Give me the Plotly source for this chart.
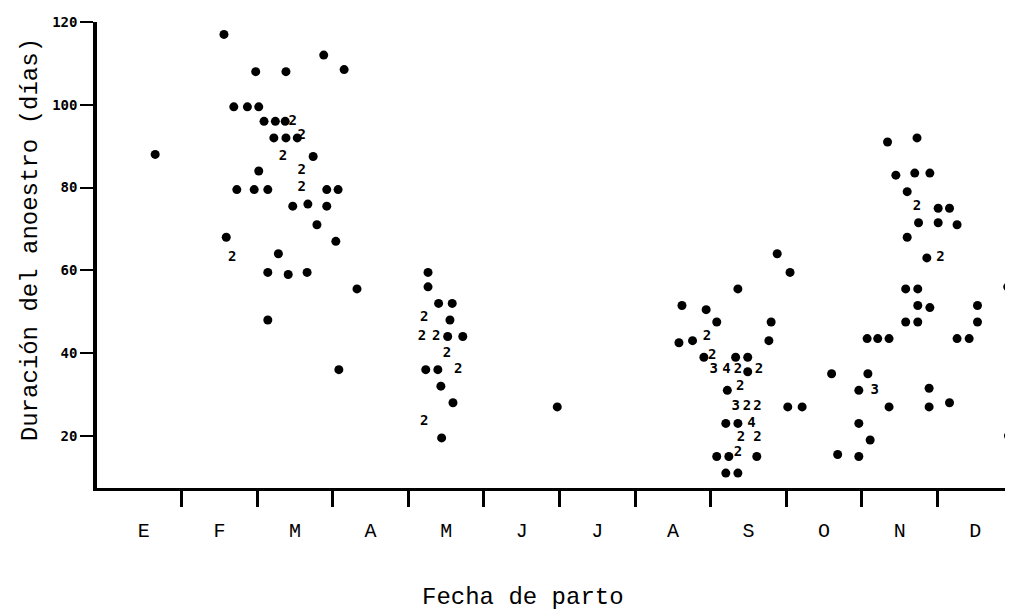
import plotly.graph_objects as go

# Month of calving (fractional month, 0 = start of January), duration of anoestrus (days), count of coincident animals
x_month = [
    0.65,
    1.56, 1.59, 1.67, 1.69, 1.73, 1.87, 1.96, 1.98, 2.02, 2.02, 2.09, 2.14, 2.14, 2.14,
    2.22, 2.24, 2.28, 2.34, 2.37, 2.38, 2.38, 2.41, 2.47, 2.47, 2.53, 2.59, 2.59, 2.59,
    2.66, 2.67, 2.74, 2.79, 2.88, 2.92, 2.92, 3.04, 3.07, 3.08, 3.15, 3.32,
    4.18, 4.21, 4.21, 4.23, 4.26, 4.26, 4.37, 4.39, 4.40, 4.43, 4.44, 4.51, 4.52, 4.55,
    4.58, 4.59, 4.66, 4.72,
    5.97,
    7.58, 7.62, 7.76, 7.91, 7.94, 7.95, 8.02, 8.04, 8.08, 8.08, 8.20, 8.20, 8.21, 8.22,
    8.24, 8.33, 8.33, 8.36, 8.36, 8.36, 8.36, 8.36, 8.39, 8.40, 8.48, 8.49, 8.49, 8.54,
    8.61, 8.62, 8.62, 8.64, 8.77, 8.80, 8.88, 9.02, 9.05, 9.21,
    9.60, 9.68, 9.96, 9.96, 9.96, 10.07, 10.08, 10.11, 10.17, 10.21, 10.34, 10.36, 10.36,
    10.45, 10.58, 10.58, 10.60, 10.60, 10.70, 10.73, 10.73, 10.74, 10.74, 10.74, 10.75,
    10.86, 10.89, 10.89, 10.90, 10.90, 11.01, 11.01, 11.04, 11.16, 11.16, 11.26, 11.26,
    11.42, 11.53, 11.53, 11.93, 11.94,
]
dias = [
    88,
    117, 68, 63, 99.5, 79.5, 99.5, 79.5, 108, 99.5, 84, 96, 79.5, 59.5, 48,
    92, 96, 64, 87.5, 96, 108, 92, 59, 96, 75.5, 92, 92.5, 84, 80,
    59.5, 76, 87.5, 71, 112, 79.5, 75.5, 67, 79.5, 36, 108.5, 55.5,
    44, 48.5, 23.5, 36, 59.5, 56, 44, 36, 52, 32, 19.5, 40, 44, 48,
    52, 28, 36, 44,
    27,
    42.5, 51.5, 43, 39, 50.5, 44, 39.5, 36, 47.5, 15, 23, 11, 36, 31,
    15, 39, 27, 55.5, 36, 23, 16, 11, 32, 19.5, 27, 39, 35.5, 23,
    15, 27, 19.5, 36, 43, 47.5, 64, 27, 59.5, 27,
    35, 15.5, 31, 23, 15, 43.5, 35, 19, 31, 43.5, 91, 43.5, 27,
    83, 55.5, 47.5, 79, 68, 83.5, 92, 75.5, 55.5, 51.5, 47.5, 71.5,
    63, 31.5, 27, 83.5, 51, 75, 71.5, 63, 75, 28, 71, 43.5,
    43.5, 51.5, 47.5, 56, 20,
]
n_animales = [
    1,
    1, 1, 2, 1, 1, 1, 1, 1, 1, 1, 1, 1, 1, 1,
    1, 1, 1, 2, 1, 1, 1, 1, 2, 1, 1, 2, 2, 2,
    1, 1, 1, 1, 1, 1, 1, 1, 1, 1, 1, 1,
    2, 2, 2, 1, 1, 1, 2, 1, 1, 1, 1, 2, 1, 1,
    1, 1, 2, 1,
    1,
    1, 1, 1, 1, 1, 2, 2, 3, 1, 1, 1, 1, 4, 1,
    1, 1, 3, 1, 2, 1, 2, 1, 2, 2, 2, 1, 1, 4,
    1, 2, 2, 2, 1, 1, 1, 1, 1, 1,
    1, 1, 1, 1, 1, 1, 1, 1, 3, 1, 1, 1, 1,
    1, 1, 1, 1, 1, 1, 1, 2, 1, 1, 1, 1,
    1, 1, 1, 1, 1, 1, 1, 2, 1, 1, 1, 1,
    1, 1, 1, 1, 1,
]

meses = ["E", "F", "M", "A", "M", "J", "J", "A", "S", "O", "N", "D"]
y_ticks = [20, 40, 60, 80, 100, 120]

single_x = [x for x, n in zip(x_month, n_animales) if n == 1]
single_y = [y for y, n in zip(dias, n_animales) if n == 1]
multi_x = [x for x, n in zip(x_month, n_animales) if n > 1]
multi_y = [y for y, n in zip(dias, n_animales) if n > 1]
multi_t = [str(n) for n in n_animales if n > 1]

fig = go.Figure()
fig.add_trace(go.Scatter(
    x=single_x, y=single_y, mode="markers",
    marker=dict(color="black", size=9, line=dict(width=0)),
    showlegend=False, cliponaxis=False,
))
fig.add_trace(go.Scatter(
    x=multi_x, y=multi_y, mode="text", text=multi_t,
    textfont=dict(family="DejaVu Sans Mono", size=14, color="black", weight="bold"),
    showlegend=False, cliponaxis=False,
))

# page body adds an 8px margin, so the figure is 8px smaller than the window
fig.update_layout(
    width=1005, height=606,
    margin=dict(l=89, r=0, t=14, b=126),
    paper_bgcolor="white", plot_bgcolor="white",
    xaxis=dict(
        range=[-0.12, 12.0],
        tickmode="array",
        tickvals=[i + 0.5 for i in range(len(meses))],
        ticktext=meses,
        ticks="",
        ticklabelstandoff=22,
        tickfont=dict(family="Liberation Mono", size=20, color="black"),
        showgrid=False, zeroline=False,
        showline=True, linecolor="black", linewidth=3,
        minor=dict(
            tickmode="array",
            tickvals=list(range(1, len(meses))),
            ticks="outside", ticklen=16, tickwidth=2.5, tickcolor="black",
            showgrid=False,
        ),
    ),
    yaxis=dict(
        range=[7.4, 120],
        tickmode="array",
        tickvals=y_ticks,
        ticks="outside", ticklen=13, tickwidth=2, tickcolor="black",
        tickfont=dict(family="DejaVu Sans Mono", size=14, color="black", weight="bold"),
        showgrid=False, zeroline=False,
        showline=True, linecolor="black", linewidth=3.5,
    ),
    annotations=[
        dict(text="Duración del anoestro (días)", xref="paper", yref="paper",
             x=-0.073, y=0.532, textangle=-90, showarrow=False,
             xanchor="center", yanchor="middle",
             font=dict(family="Liberation Mono", size=24, color="black")),
        dict(text="Fecha de parto", xref="paper", yref="paper",
             x=0.465, y=-0.236, showarrow=False,
             xanchor="center", yanchor="middle",
             font=dict(family="Liberation Mono", size=24, color="black")),
    ],
)

fig.write_html("out.html")
